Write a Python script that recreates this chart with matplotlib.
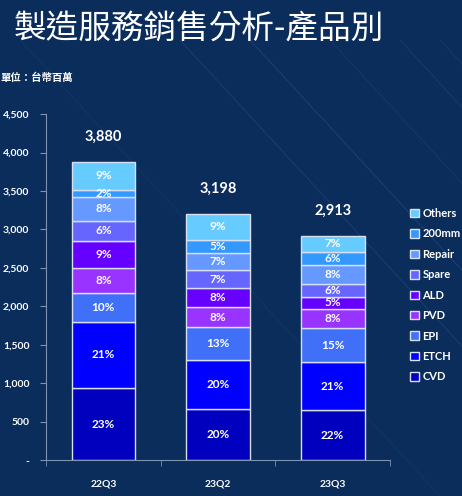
import numpy as np
import matplotlib.pyplot as plt

plt.rcParams['font.family'] = ['Lato', 'Noto Sans CJK TC', 'DejaVu Sans']

# 資料 (台幣百萬)
quarters = ['22Q3', '23Q2', '23Q3']
totals = [3880, 3198, 2913]
products = ['CVD', 'ETCH', 'EPI', 'PVD', 'ALD', 'Spare', 'Repair', '200mm', 'Others']
cvd = [939, 662, 654]
etch = [862, 646, 621]
epi = [379, 423, 446]
pvd = [316, 260, 248]
ald = [357, 250, 151]
spare = [255, 229, 168]
repair = [320, 224, 246]
mm200 = [91, 173, 176]
others = [361, 331, 203]
pct_labels = [
    ['23%', '21%', '10%', '8%', '9%', '6%', '8%', '2%', '9%'],
    ['20%', '20%', '13%', '8%', '8%', '7%', '7%', '5%', '9%'],
    ['22%', '21%', '15%', '8%', '5%', '6%', '8%', '6%', '7%'],
]

series = [cvd, etch, epi, pvd, ald, spare, repair, mm200, others]
colors = ['#0000BE', '#0000FF', '#4070F8', '#9933FF', '#6600FF',
          '#6666FF', '#6699FF', '#3399FF', '#66CCFF']

bg = '#0A2D5C'
fig = plt.figure(figsize=(4.62, 4.96), dpi=100, facecolor=bg)

# 背景斜線
bgax = fig.add_axes([0, 0, 1, 1], zorder=-1)
bgax.set_xlim(0, 462)
bgax.set_ylim(496, 0)
bgax.axis('off')
for x0, a in [(180, 0.12), (250, 0.14), (330, 0.08), (400, 0.10), (20, 0.06), (440, 0.08)]:
    bgax.plot([x0, x0 + 420], [40, 496], color='#6FA8FF', lw=0.8, alpha=a)

ax = fig.add_axes([0.0996, 0.072, 0.7446, 0.698])
ax.set_facecolor('none')
x = np.arange(len(quarters))
bottom = np.zeros(len(quarters))
handles = []
for i, (vals, c, name) in enumerate(zip(series, colors, products)):
    b = ax.bar(x, vals, 0.555, bottom=bottom, color=c, edgecolor='#D8E0F0',
               linewidth=1.0, label=name)
    handles.append(b)
    for j in range(len(quarters)):
        ax.text(x[j], bottom[j] + vals[j] / 2, pct_labels[j][i], ha='center',
                va='center', color='white', fontsize=8.5, fontweight='bold')
    bottom += np.array(vals)

for j in range(len(quarters)):
    ax.annotate(f'{totals[j]:,}', (x[j], bottom[j]), xytext=(0, 18),
                textcoords='offset points', ha='center', va='center',
                color='white', fontsize=10.5, fontweight='bold')

ax.set_xlim(-0.5, 2.5)
ax.set_ylim(0, 4500)
ax.set_yticks(np.arange(0, 4501, 500))
ax.set_yticklabels(['-'] + [f'{v:,}' for v in range(500, 4501, 500)])
ax.set_xticks(x)
ax.set_xticklabels(quarters)
ax.set_xticks([-0.5, 0.5, 1.5, 2.5], minor=True)
ax.tick_params(axis='x', which='major', length=0, pad=14)
ax.tick_params(axis='x', which='minor', length=4, color='#7F93B0')
ax.tick_params(axis='y', length=4, color='#7F93B0', pad=8)
for lab in ax.get_xticklabels() + ax.get_yticklabels():
    lab.set_color('white')
    lab.set_fontsize(7.5)
    lab.set_fontweight('bold')
for s in ['top', 'right']:
    ax.spines[s].set_visible(False)
for s in ['left', 'bottom']:
    ax.spines[s].set_color('#7F93B0')

leg = fig.legend(handles[::-1], products[::-1], loc='center left',
                 bbox_to_anchor=(0.866, 0.405), frameon=False, fontsize=8,
                 handlelength=0.8, handleheight=0.8, handletextpad=0.3,
                 labelspacing=0.85, labelcolor='white')
for t in leg.get_texts():
    t.set_fontweight('bold')

fig.text(0.03, 0.943, '製造服務銷售分析-產品別', color='white', fontsize=23.5,
         va='center', ha='left', family=['Noto Sans CJK TC', 'DejaVu Sans'])
fig.text(0.0, 0.843, '單位：台幣百萬', color='white', fontsize=7.5,
         va='center', ha='left', fontweight='bold',
         family=['Noto Sans CJK TC', 'DejaVu Sans'])

fig.savefig('out.png', dpi=100, facecolor=bg)
